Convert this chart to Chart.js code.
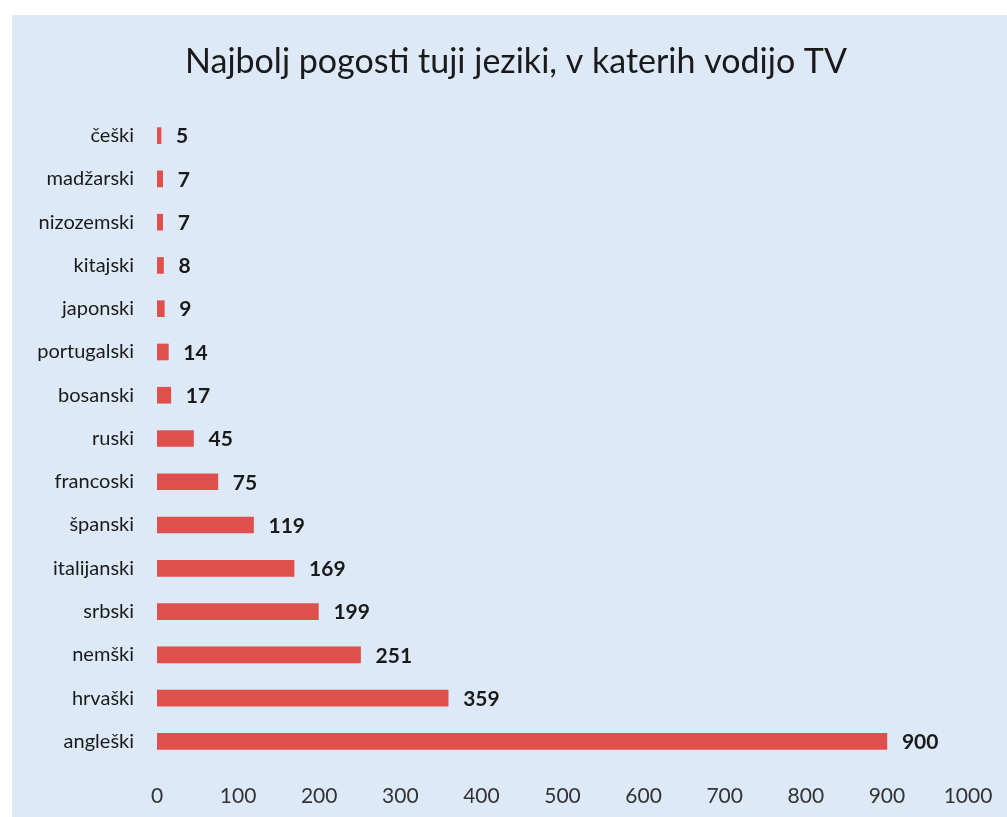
<!DOCTYPE html>
<html>
<head>
<meta charset="utf-8">
<script src="https://cdn.jsdelivr.net/npm/chart.js@4"></script>
<style>
    html, body { margin: 0; padding: 0; background: #ffffff; }
    #wrap { width: 1007px; height: 817px; }
</style>
</head>
<body>
<div id="wrap"><canvas id="chart" width="1007" height="817"></canvas></div>
<script>
// podatki
const jeziki = ["češki", "madžarski", "nizozemski", "kitajski", "japonski", "portugalski", "bosanski",
    "ruski", "francoski", "španski", "italijanski", "srbski", "nemški", "hrvaški", "angleški"];
const stevilo = [5, 7, 7, 8, 9, 14, 17, 45, 75, 119, 169, 199, 251, 359, 900];
const xTicks = [0, 100, 200, 300, 400, 500, 600, 700, 800, 900, 1000];
const naslov = "Najbolj pogosti tuji jeziki, v katerih vodijo TV";

const FONT = "Lato, 'Open Sans', sans-serif";

// ozadje
const backgroundPlugin = {
    id: "ozadje",
    beforeDraw(chart) {
        const ctx = chart.ctx;
        ctx.save();
        ctx.fillStyle = "#ffffff";
        ctx.fillRect(0, 0, chart.width, chart.height);
        ctx.fillStyle = "#dde9f6";
        ctx.fillRect(12, 15, chart.width - 12, chart.height - 15);
        ctx.restore();
    }
};

// naslov (sredina malo desno od sredine platna)
const titlePlugin = {
    id: "naslov",
    afterDraw(chart) {
        const ctx = chart.ctx;
        ctx.save();
        ctx.font = "34px " + FONT;
        ctx.fillStyle = "#1a1a1a";
        ctx.textAlign = "center";
        ctx.textBaseline = "middle";
        ctx.fillText(naslov, 516, 62);
        ctx.restore();
    }
};

// vrednosti ob stolpcih
const valueLabelsPlugin = {
    id: "vrednosti",
    afterDatasetsDraw(chart) {
        const ctx = chart.ctx;
        const meta = chart.getDatasetMeta(0);
        ctx.save();
        ctx.font = "bold 21px " + FONT;
        ctx.fillStyle = "#1a1a1a";
        ctx.textAlign = "left";
        ctx.textBaseline = "middle";
        meta.data.forEach((bar, i) => {
            ctx.fillText(String(stevilo[i]), bar.x + 15, bar.y + 1);
        });
        ctx.restore();
    }
};

new Chart(document.getElementById("chart"), {
    type: "bar",
    data: {
        labels: jeziki,
        datasets: [{
            data: stevilo,
            backgroundColor: "#df504c",
            borderWidth: 0,
            barThickness: 16
        }]
    },
    options: {
        indexAxis: "y",
        responsive: false,
        animation: false,
        layout: { padding: { left: 0, right: 39, top: 114, bottom: 10 } },
        plugins: {
            legend: { display: false },
            tooltip: { enabled: false },
            title: { display: false }
        },
        scales: {
            x: {
                min: 0,
                max: 1000,
                afterBuildTicks(scale) {
                    scale.ticks = xTicks.map(v => ({ value: v }));
                },
                afterFit(scale) {
                    scale.height = 44;
                    scale.paddingLeft = 0;
                    scale.paddingRight = 0;
                },
                grid: { display: false, drawTicks: false },
                border: { display: false },
                ticks: {
                    color: "#333333",
                    padding: 21,
                    maxRotation: 0,
                    font: { family: FONT, size: 21 },
                    callback: v => String(v)
                }
            },
            y: {
                afterFit(scale) { scale.width = 157; },
                grid: { display: false, drawTicks: false },
                border: { display: false },
                ticks: {
                    color: "#1a1a1a",
                    padding: 23,
                    font: { family: FONT, size: 20 }
                }
            }
        }
    },
    plugins: [backgroundPlugin, valueLabelsPlugin, titlePlugin]
});
</script>
</body>
</html>
